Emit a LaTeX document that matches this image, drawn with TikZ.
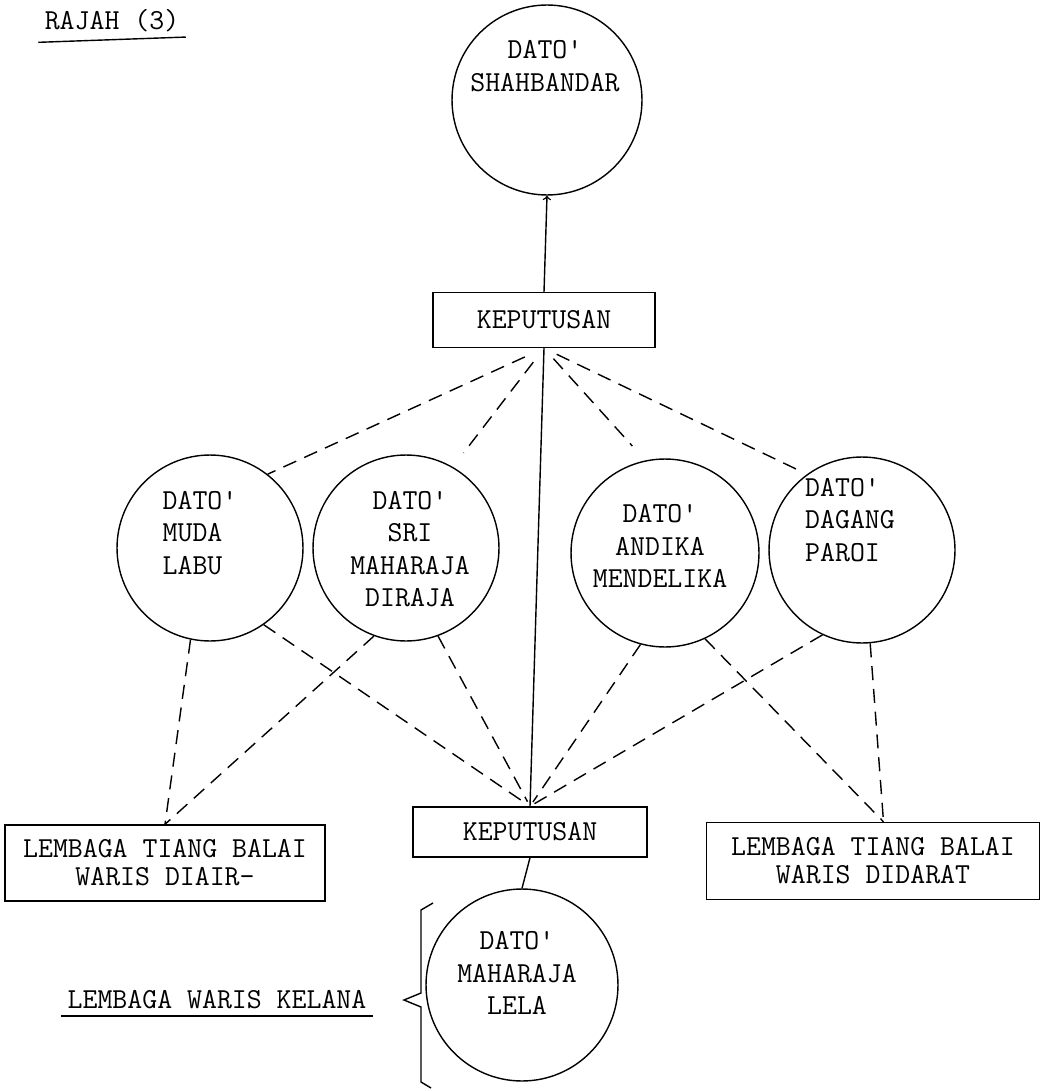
\documentclass[tikz,border=0pt]{standalone}
\usepackage{fontspec}
\usetikzlibrary{arrows}
\tikzset{
	x=0.02cm, y=-0.02cm, % one unit is one pixel of the scan
	>=to, % thin open arrow head
	every node/.style={font=\ttfamily\fontsize{16.5}{18.5}\selectfont}, % typewriter text
	dato/.style={draw, circle, minimum size=3.72cm, inner sep=0pt}, % circle of a chief
	lembaga/.style={draw, rectangle, align=center, inner sep=2pt, font=\ttfamily\fontsize{16.5}{16}\selectfont}, % boxes
	link/.style={dash pattern=on 8pt off 5pt}, % the dashed lines
}

\begin{document}
\begin{tikzpicture}[line width=0.8pt]
	\useasboundingbox (0,0) rectangle (1048,1091);

	\node (rajah) at (112,21) {RAJAH (3)};
	\draw ([yshift=-2pt]rajah.south west) -- ([yshift=1pt]rajah.south east);

	\node[dato, minimum size=3.8cm] (shah) at (547,100) {};
	\node[align=center] (shaht) at (545,66) {DATO'\\SHAHBANDAR};
	\node[lembaga, minimum width=4.44cm, minimum height=1.1cm] (kep1) at (544,320) {KEPUTUSAN};

	\node[dato] (labu) at (210,548) {};
	\node[align=left] (labut) at (200,533) {DATO'\\MUDA\\LABU};
	\node[dato] (sri) at (406,548) {};
	\node[align=center] (srit) at (410,549) {DATO'\\SRI\\MAHARAJA\\DIRAJA};
	\node[dato, minimum size=3.76cm] (andika) at (665,553) {};
	\node[align=center] (andikat) at (660,546) {DATO'\\ANDIKA\\MENDELIKA};
	\node[dato] (dagang) at (862,550) {};
	\node[align=left] (dagangt) at (850,520) {DATO'\\DAGANG\\PAROI};

	\node[lembaga, minimum width=6.4cm, minimum height=1.52cm] (diair) at (165,863) {LEMBAGA TIANG BALAI\\WARIS DIAIR-};
	\node[lembaga, minimum width=4.68cm, minimum height=1cm] (kep2) at (530,832) {KEPUTUSAN};
	\node[lembaga, minimum width=6.66cm, minimum height=1.54cm] (didarat) at (873,861) {LEMBAGA TIANG BALAI\\WARIS DIDARAT};

	\node[dato, minimum size=3.84cm] (lela) at (522,985) {};
	\node[align=center] (lelat) at (517,973) {DATO'\\MAHARAJA\\LELA};
	\node (kelana) at (217,1000) {LEMBAGA WARIS KELANA};
	\draw (kelana.south west) -- (kelana.south east);
	\draw (433,903) -- (421,910) -- (421,993) -- (404,1000) -- (421,1007) -- (421,1082) -- (431,1088);

	\draw[->] (kep1.north) -- (shah.south);
	\draw (kep1.south) -- (kep2.north)
	      (kep2.south) -- (lela.north);

	\draw[link] (kep1.south) edge[shorten <=12pt] (labu.52)
	                         edge[shorten <=10pt, shorten >=10pt] (sri.60)
	                         edge[shorten <=8pt, shorten >=11pt] (andika.102)
	                         edge[shorten <=8pt, shorten >=6pt] (dagang.126);

	\draw[link] (labu.258) edge (diair.north)
	            (labu.305) edge[shorten >=3pt] (kep2.north)
	            (sri.250) edge (diair.north)
	            (sri.290) edge[shorten >=3pt] (kep2.north)
	            (andika.255) edge[shorten >=3pt] (kep2.north)
	            (andika.295) edge (didarat.75)
	            (dagang.245) edge[shorten >=3pt] (kep2.north)
	            (dagang.275) edge (didarat.75);
\end{tikzpicture}
\end{document}
